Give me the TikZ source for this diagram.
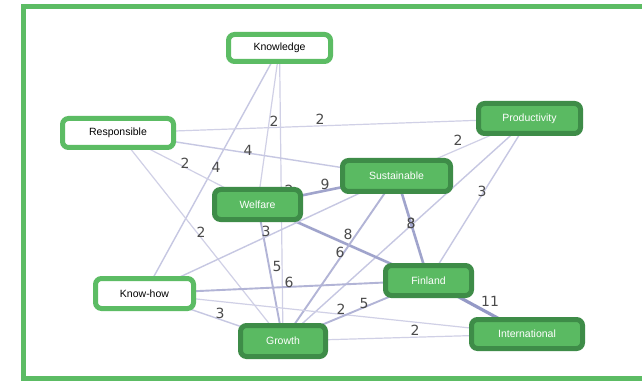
\documentclass[tikz,border=0pt]{standalone}
\usepackage{fontspec}
\setmainfont{Liberation Sans}
\newfontfamily\lblfont{DejaVu Sans}
\usetikzlibrary{backgrounds}
\definecolor{lg}{RGB}{92,188,100}
\definecolor{dg}{RGB}{62,140,72}
\definecolor{fg}{RGB}{90,186,98}
\definecolor{ca}{RGB}{208,208,230}
\definecolor{cb}{RGB}{198,199,226}
\definecolor{cc}{RGB}{178,180,214}
\definecolor{cd}{RGB}{160,164,204}
\definecolor{ce}{RGB}{148,153,198}
\definecolor{lblc}{RGB}{75,75,75}
\tikzset{
  basebox/.style={line width=5pt, rounded corners=6pt, inner sep=0pt, font=\fontsize{10.5}{12}\selectfont},
  wnode/.style={basebox, draw=lg, fill=white, text=black},
  gnode/.style={basebox, draw=dg, fill=fg, text=white},
  lbl/.style={font=\lblfont\fontsize{14}{14}\selectfont, text=lblc, inner sep=0pt, midway},
  ewa/.style={draw=ca, line width=1.2pt},
  ewb/.style={draw=cb, line width=1.4pt},
  ewc/.style={draw=cc, line width=1.9pt},
  ewd/.style={draw=cd, line width=2.6pt},
  ewe/.style={draw=ce, line width=3.2pt},
}
\begin{document}
\begin{tikzpicture}[x=1pt,y=-1pt]
\useasboundingbox (0,0) rectangle (642,382);
\draw[lg, line width=5pt] (680,6.7) -- (23.5,6.7) -- (23.5,378.3) -- (680,378.3);

\node[wnode, minimum width=102pt, minimum height=27pt] (K) at (279.5,48) {Knowledge};
\node[wnode, minimum width=111pt, minimum height=29pt] (R) at (118,133) {Responsible};
\node[gnode, minimum width=102pt, minimum height=30pt] (P) at (529.5,118.5) {Productivity};
\node[gnode, minimum width=108pt, minimum height=31pt] (S) at (396.5,176) {Sustainable};
\node[gnode, minimum width=86pt, minimum height=30pt] (W) at (257.5,204.5) {Welfare};
\node[wnode, minimum width=98pt, minimum height=30pt] (H) at (144.5,293.5) {Know-how};
\node[gnode, minimum width=86pt, minimum height=30pt] (F) at (428.5,280.5) {Finland};
\node[gnode, minimum width=85pt, minimum height=31pt] (G) at (283,341) {Growth};
\node[gnode, minimum width=111pt, minimum height=29pt] (I) at (527,334) {International};

\begin{scope}[on background layer]
\fill[white] (0,0) rectangle (642,382);
\draw[ewb] (K.center) -- node[lbl, xshift=4pt, yshift=3pt] {4} (H.center);
\draw[ewa] (K.center) -- node[lbl, xshift=5.5pt, yshift=5.25pt] {2} (W.center);
\draw[ewa] (K.center) -- node[lbl, xshift=7.75pt, yshift=4.5pt] {2} (G.center);
\draw[ewa] (R.center) -- node[lbl, xshift=-3.75pt, yshift=6.75pt] {2} (P.center);
\draw[ewb] (R.center) -- node[lbl, xshift=-9.25pt, yshift=4.5pt] {4} (S.center);
\draw[ewa] (R.center) -- node[lbl, xshift=-2.75pt, yshift=5.75pt] {2} (W.center);
\draw[ewa] (R.center) -- node[lbl, xshift=0.5pt, yshift=5pt] {2} (G.center);
\draw[ewd] (W.center) -- node[lbl, xshift=-2pt, yshift=6.25pt] {9} (S.center);
\draw[ewa] (P.center) -- node[lbl, xshift=-5pt, yshift=7.25pt] {2} (S.center);
\draw[ewb] (P.center) -- node[lbl, xshift=3pt, yshift=8.5pt] {3} (F.center);
\draw[ewb] (P.center) -- node[lbl, xshift=4.75pt, yshift=6.75pt] {3} (G.center);
\draw[ewd] (S.center) -- node[lbl, xshift=-1.5pt, yshift=5.25pt] {8} (F.center);
\draw[ewd] (W.center) -- node[lbl, xshift=5pt, yshift=8.5pt] {8} (F.center);
\draw[ewc] (S.center) -- node[lbl, xshift=0.25pt, yshift=6.5pt] {6} (G.center);
\draw[ewc] (W.center) -- node[lbl, xshift=6.75pt, yshift=6.75pt] {5} (G.center);
\draw[ewb] (S.center) -- node[lbl, xshift=-4.5pt, yshift=3.75pt] {3} (H.center);
\draw[ewc] (H.center) -- node[lbl, xshift=2.5pt, yshift=5pt] {6} (F.center);
\draw[ewb] (H.center) -- node[lbl, xshift=6.25pt, yshift=4.25pt] {3} (G.center);
\draw[ewa] (H.center) -- node[lbl, xshift=5.25pt, yshift=4.75pt] {2} (I.center);
\draw[ewc] (G.center) -- node[lbl, xshift=8.25pt, yshift=7.75pt] {5} (F.center);
\draw[ewa] (G.center) -- node[lbl, xshift=10pt, yshift=7.5pt] {2} (I.center);
\draw[ewe] (F.center) -- node[lbl, xshift=12.25pt, yshift=6.25pt] {11} (I.center);
\end{scope}
\end{tikzpicture}
\end{document}
